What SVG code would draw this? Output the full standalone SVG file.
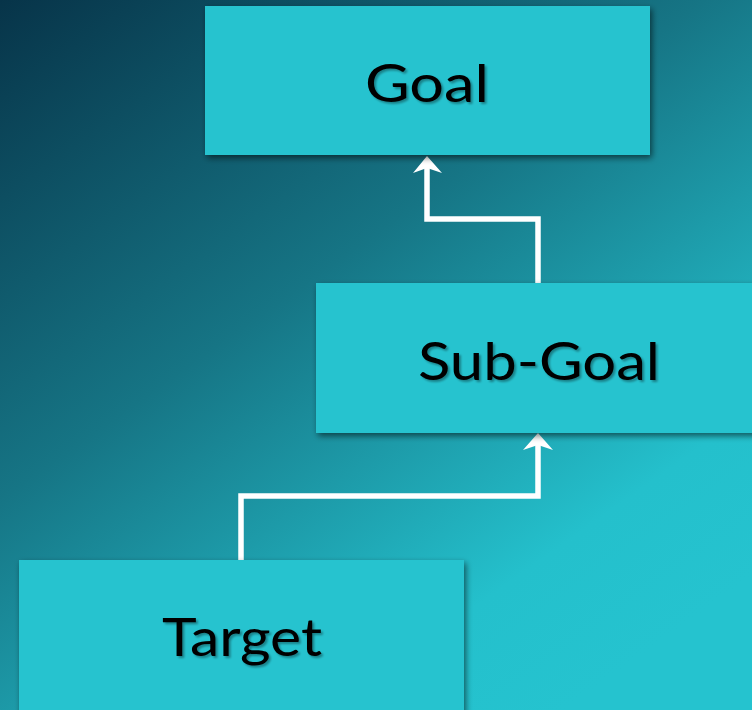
<svg xmlns="http://www.w3.org/2000/svg" width="752" height="710" viewBox="0 0 752 710">
  <defs>
    <linearGradient id="bg" x1="0" y1="0" x2="0.75" y2="1">
      <stop offset="0" stop-color="#073449"/>
      <stop offset="0.45" stop-color="#167585"/>
      <stop offset="0.85" stop-color="#24c0cc"/>
      <stop offset="1" stop-color="#25c3cf"/>
    </linearGradient>
    <filter id="shadow" x="-10%" y="-10%" width="120%" height="130%">
      <feGaussianBlur in="SourceAlpha" stdDeviation="3"/>
      <feOffset dx="2" dy="3" result="b"/>
      <feComponentTransfer><feFuncA type="linear" slope="0.55"/></feComponentTransfer>
      <feMerge><feMergeNode/><feMergeNode in="SourceGraphic"/></feMerge>
    </filter>
    <filter id="tshadow" x="-10%" y="-10%" width="120%" height="130%">
      <feGaussianBlur in="SourceAlpha" stdDeviation="1"/>
      <feOffset dx="2" dy="2"/>
      <feComponentTransfer><feFuncA type="linear" slope="0.35"/></feComponentTransfer>
      <feMerge><feMergeNode/><feMergeNode in="SourceGraphic"/></feMerge>
    </filter>
    <marker id="arrow" viewBox="0 0 10 10" refX="5" refY="0" markerWidth="5.2" markerHeight="3.4" markerUnits="strokeWidth" orient="auto-start-reverse" preserveAspectRatio="none">
      <path d="M5 0 L10 10 L5 8 L0 10 Z" fill="#ffffff"/>
    </marker>
    <style>
      .box { fill: #25c3cf; filter: url(#shadow); }
      .label { font-family: "Century Gothic", "Lato", "Open Sans", sans-serif; font-size: 52px; fill: #000000; text-anchor: middle; filter: url(#tshadow); }
      .conn { fill: none; stroke: #ffffff; stroke-width: 5.5; stroke-linejoin: miter; }
      .head { fill: #ffffff; }
    </style>
  </defs>
  <rect x="0" y="0" width="752" height="710" fill="url(#bg)"/>
  <g id="connectors">
    <polyline class="conn" points="538,283 538,219 427,219 427,168"/>
    <path class="head" d="M427,156 L442,173 L427,168 L413,173 Z"/>
    <polyline class="conn" points="241,560 241,496 538,496 538,445"/>
    <path class="head" d="M538,433 L553,450 L538,445 L523,450 Z"/>
  </g>
  <g id="goal">
    <rect class="box" x="205" y="6" width="445" height="149"/>
    <text class="label" x="427" y="102" textLength="124" lengthAdjust="spacingAndGlyphs">Goal</text>
  </g>
  <g id="sub-goal">
    <rect class="box" x="316" y="283" width="445" height="150"/>
    <text class="label" x="539" y="380" textLength="242" lengthAdjust="spacingAndGlyphs">Sub-Goal</text>
  </g>
  <g id="target">
    <rect class="box" x="19" y="560" width="445" height="160"/>
    <text class="label" x="242" y="656" textLength="160" lengthAdjust="spacingAndGlyphs">Target</text>
  </g>
</svg>
